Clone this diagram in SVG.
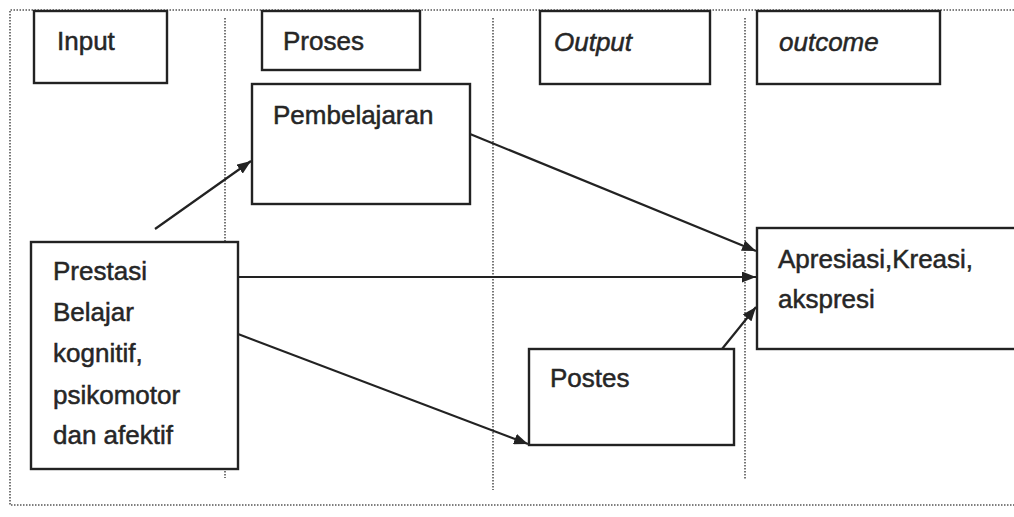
<svg xmlns="http://www.w3.org/2000/svg" width="1014" height="517" viewBox="0 0 1014 517">
<style>
.box{fill:#fff;stroke:#222;stroke-width:2.4}
.t{font-family:"Liberation Sans",Arial,sans-serif;font-size:26px;fill:#262626;stroke:#262626;stroke-width:0.5}
.i{font-style:italic}
.dot{fill:none;stroke:#555;stroke-width:1.6;stroke-dasharray:1.5 1.5}
.c{fill:none;stroke:#222;stroke-width:2.2}
</style>
<defs>
<marker id="ah" viewBox="0 0 14 11" refX="14" refY="5.5" markerWidth="14" markerHeight="11" markerUnits="userSpaceOnUse" orient="auto">
<path d="M0,0 L14,5.5 L0,11 Z" fill="#222"/>
</marker>
</defs>
<rect width="1014" height="517" fill="#fff"/>
<g id="frame">
<path class="dot" d="M1014,10 H10 V505 H1014"/>
<line class="dot" x1="225" y1="18" x2="225" y2="478"/>
<line class="dot" x1="493" y1="18" x2="493" y2="490"/>
<line class="dot" x1="745" y1="18" x2="745" y2="480"/>
</g>
<g id="connectors">
<line class="c" x1="155" y1="229" x2="251" y2="161" marker-end="url(#ah)"/>
<line class="c" x1="470" y1="134" x2="756" y2="251" marker-end="url(#ah)"/>
<line class="c" x1="238" y1="277" x2="756" y2="277" marker-end="url(#ah)"/>
<line class="c" x1="238" y1="334" x2="528" y2="444" marker-end="url(#ah)"/>
<line class="c" x1="722" y1="349" x2="756" y2="307" marker-end="url(#ah)"/>
</g>
<g id="input"><rect class="box" x="34" y="11" width="133" height="72"/><text class="t" x="57" y="50">Input</text></g>
<g id="proses"><rect class="box" x="262" y="11" width="158" height="59"/><text class="t" x="283" y="50">Proses</text></g>
<g id="output"><rect class="box" x="540" y="11" width="170" height="73"/><text class="t i" x="554" y="51">Output</text></g>
<g id="outcome"><rect class="box" x="757" y="11" width="183" height="73"/><text class="t i" x="779" y="51">outcome</text></g>
<g id="pembelajaran"><rect class="box" x="252" y="84" width="218" height="120"/><text class="t" x="273" y="124">Pembelajaran</text></g>
<g id="prestasi"><rect class="box" x="31" y="242" width="207" height="227"/>
<text class="t" x="53" y="280">Prestasi</text>
<text class="t" x="53" y="321">Belajar</text>
<text class="t" x="53" y="362">kognitif,</text>
<text class="t" x="53" y="404">psikomotor</text>
<text class="t" x="53" y="444">dan afektif</text>
</g>
<g id="apresiasi"><rect class="box" x="757" y="228" width="270" height="121"/>
<text class="t" x="778" y="268">Apresiasi,Kreasi,</text>
<text class="t" x="778" y="308">akspresi</text>
</g>
<g id="postes"><rect class="box" x="529" y="349" width="205" height="96"/><text class="t" x="550" y="387">Postes</text></g>
</svg>
